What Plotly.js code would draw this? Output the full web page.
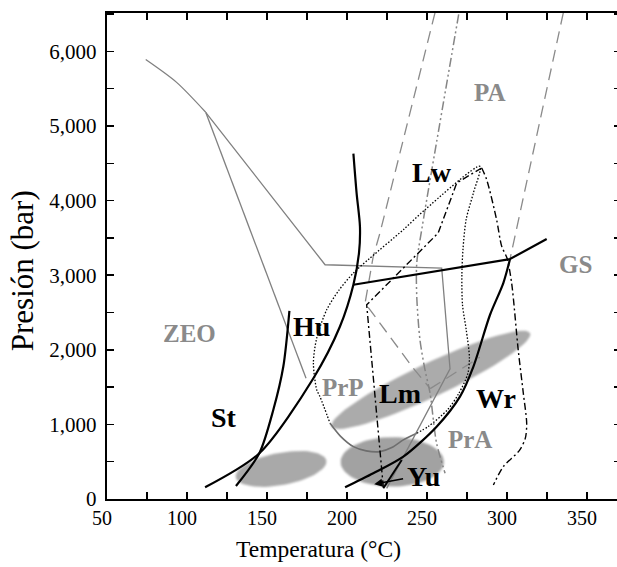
<!DOCTYPE html>
<html><head><meta charset="utf-8">
<script src="https://cdn.plot.ly/plotly-3.0.1.min.js"></script>
<style>html,body{margin:0;padding:0;overflow:hidden;background:#fff}#c{width:621px;height:567px}</style>
</head><body><div id="c"></div>
<script>
// ---- Data (Temperature °C, Pressure bar) ----
// Thin grey field boundaries (ZEO)
const zeoArcT = [74.2, 93.5, 111.7];
const zeoArcP = [5891, 5585, 5184];
const zeoTopT = [111.7, 183, 186.3, 259.2, 264.4, 224.8];
const zeoTopP = [5184, 3234, 3140, 3095, 1745, 143];
const zeoPrpT = [111.7, 174.4];
const zeoPrpP = [5184, 1620];
// Grey long-dash boundaries (PA)
const paLeftT = [255, 220.6, 216.4, 211.3, 241.4, 252];
const paLeftP = [6518, 3566, 3252, 2626, 1754, 1480];
const paLinkT = [252, 283];
const paLinkP = [1480, 1900];
const paRightT = [335.2, 301.9];
const paRightP = [6518, 3217];
// Grey dash-dot-dot line
const ddT = [269.8, 246.7, 243.6, 243.6, 245.6, 248.75, 251.9, 256, 261.3];
const ddP = [6495, 3610, 3163, 2715, 2134, 1731, 1418, 747, 345];
// Thick black reaction curves
const stT = [130.6, 145.2, 154, 160.2, 164];
const stP = [174, 613, 1200, 1776, 2523];
const huT = [111.3, 145.2, 179, 195.6, 204, 207.5, 208.1, 206, 204];
const huP = [157, 613, 1619, 2312, 2872, 3300, 3650, 4100, 4630];
const gsT = [204, 301.9, 324.8];
const gsP = [2872, 3217, 3485];
const wrT = [198.8, 216.4, 235.2, 256, 270.6, 279, 289.4, 297.7, 301.9];
const wrP = [157, 345, 568, 970, 1373, 1776, 2470, 2895, 3217];
const yuT = [222.7, 234.2];
const yuP = [143, 523];
// Black dash-dot curves
const lwLeftT = [222.7, 220.6, 218.6, 215.4, 212.3, 257, 268.6, 284.2];
const lwLeftP = [157, 658, 1104, 1865, 2603, 3566, 4237, 4438];
const lwRightT = [284.2, 287.3, 293.5, 296.7, 300, 302.9, 307, 310.2, 312.3, 311.5, 308, 297.7, 291.5];
const lwRightP = [4438, 4281, 3744, 3386, 3230, 2895, 2000, 1418, 1015, 820, 658, 434, 188];
// Dotted loop
const dotT = [243.6, 251, 263, 270, 275.5, 276.5, 274.5, 272.2, 271.8, 272.5, 274.5, 279, 283.1, 248.75, 235.2, 214.4, 204, 195, 187.3, 181, 179, 181.1, 183.1, 189.4];
const dotP = [881, 975, 1200, 1420, 1680, 1900, 2270, 2600, 3000, 3350, 3750, 4103, 4460, 3878, 3610, 3230, 3029, 2800, 2536, 2150, 1821, 1463, 1373, 1015];
// Loop section under the shaded ellipses
const uT = [189.4, 196, 204, 212, 220.6, 228, 235.2, 243.6];
const uP = [1015, 840, 702, 645, 635, 690, 792, 881];
// Shaded P-T fields (ellipses): centre, semi-axis vectors (°C, bar)
const ellCT = [158.8, 228.3, 252.4];
const ellCP = [403, 497, 1597];
const ellUT = [28.3, 32.3, 62];
const ellUP = [112.7, 0, 627];
const ellVT = [1.84, 0, 4.5];
const ellVP = [-213, 331, -206];
// Field / mineral labels
const labTxt = ['PA', 'GS', 'ZEO', 'PrP', 'PrA', 'Lw', 'Hu', 'St', 'Lm', 'Wr', 'Yu'];
const labT = [288.75, 342.5, 101.4, 197.7, 276.9, 252.9, 177.9, 123.1, 233.1, 292.9, 247.7];
const labP = [5453, 3140, 2214, 1499, 792, 4371, 2312, 1096, 1418, 1351, 300];
const labGrey = [true, true, true, true, true, false, false, false, false, false, false];
// Arrow near Yu (tail -> head)
const arrT = [236, 217];
const arrP = [275, 198];
// Axis ticks and titles
const xTickVals = [50, 75, 100, 125, 150, 175, 200, 225, 250, 275, 300, 325, 350];
const xTickText = ['50', '', '100', '', '150', '', '200', '', '250', '', '300', '', '350'];
const yTickVals = [0, 500, 1000, 1500, 2000, 2500, 3000, 3500, 4000, 4500, 5000, 5500, 6000, 6500];
const yTickText = ['0', '', '1,000', '', '2,000', '', '3,000', '', '4,000', '', '5,000', '', '6,000', ''];
const xTitle = 'Temperatura (°C)';
const yTitle = 'Presión (bar)';

// ---- Build traces ----
const traces = [];
function ellipse(i) {
  const xs = [], ys = [];
  for (let k = 0; k <= 72; k++) {
    const t = 2 * Math.PI * k / 72;
    xs.push(ellCT[i] + ellUT[i] * Math.cos(t) + ellVT[i] * Math.sin(t));
    ys.push(ellCP[i] + ellUP[i] * Math.cos(t) + ellVP[i] * Math.sin(t));
  }
  return [xs, ys];
}
const ellCols = ['#a9a9a9', '#a2a2a2', '#ababab'];
for (let i = 0; i < ellCT.length; i++) {
  const e = ellipse(i);
  traces.push({x: e[0], y: e[1], mode: 'lines', fill: 'toself',
    fillcolor: ellCols[i], line: {width: 0, color: ellCols[i]}, hoverinfo: 'skip'});
}
function ln(x, y, color, width, dash, shape) {
  traces.push({x: x, y: y, mode: 'lines', hoverinfo: 'skip',
    line: {color: color, width: width, dash: dash || 'solid', shape: shape || 'linear', smoothing: 0.8}});
}
const grey = '#808080';
ln(uT, uP, '#6e6e6e', 1.6, 'solid', 'spline');
ln(zeoArcT, zeoArcP, grey, 1.3, 'solid', 'spline');
ln(zeoTopT, zeoTopP, grey, 1.3);
ln(zeoPrpT, zeoPrpP, grey, 1.3);
ln(paLeftT, paLeftP, '#8a8a8a', 1.3, '12px,7px');
ln(paLinkT, paLinkP, '#8a8a8a', 1.3, '12px,7px');
ln(paRightT, paRightP, '#8a8a8a', 1.3, '12px,7px');
ln(ddT, ddP, '#858585', 1.5, '9px,3px,2px,3px,2px,3px', 'spline');
ln(dotT, dotP, '#000', 1.3, '1.5px,1.8px', 'spline');
ln(lwLeftT, lwLeftP, '#000', 1.4, '7px,3px,2px,3px');
ln(lwRightT, lwRightP, '#000', 1.4, '7px,3px,2px,3px', 'spline');
ln(stT, stP, '#000', 2.2, 'solid', 'spline');
ln(huT, huP, '#000', 2.2, 'solid', 'spline');
ln(gsT, gsP, '#000', 2.2);
ln(wrT, wrP, '#000', 2.2, 'solid', 'spline');
ln(yuT, yuP, '#000', 2.0);

const serif = 'Liberation Serif, Times New Roman, serif';
const annotations = labTxt.map((t, i) => ({
  x: labT[i], y: labP[i], xref: 'x', yref: 'y', text: '<b>' + t + '</b>', showarrow: false,
  xanchor: 'center', yanchor: 'middle',
  font: {family: serif, size: labGrey[i] ? 25 : 28, color: labGrey[i] ? '#8a8a8a' : '#000'}
}));
annotations.push({x: arrT[1], y: arrP[1], ax: arrT[0], ay: arrP[0], xref: 'x', yref: 'y',
  axref: 'x', ayref: 'y', text: '', showarrow: true, arrowhead: 2, arrowsize: 1.1,
  arrowwidth: 1.5, arrowcolor: '#000'});
annotations.push({text: xTitle, xref: 'paper', yref: 'paper', x: 0.411, y: -0.103,
  xanchor: 'center', yanchor: 'middle', showarrow: false,
  font: {family: serif, size: 23.5, color: '#000'}});
annotations.push({text: yTitle, xref: 'paper', yref: 'paper', x: -0.165, y: 0.469,
  xanchor: 'center', yanchor: 'middle', showarrow: false, textangle: -90,
  font: {family: serif, size: 31, color: '#000'}});

const layout = {
  width: 621, height: 567, showlegend: false,
  margin: {l: 107, r: 0, t: 13, b: 68},
  paper_bgcolor: '#fff', plot_bgcolor: '#fff',
  font: {family: serif, size: 20, color: '#000'},
  xaxis: {range: [50, 371.25], tickvals: xTickVals, ticktext: xTickText, ticks: 'inside',
    ticklen: 7, tickwidth: 1.5, tickcolor: '#000', showline: true, linewidth: 2.2, linecolor: '#000',
    mirror: 'allticks', showgrid: false, zeroline: false, ticklabelshift: -5,
    tickfont: {family: serif, size: 20, color: '#000'}},
  yaxis: {range: [0, 6515], tickvals: yTickVals, ticktext: yTickText, ticks: 'inside',
    ticklen: 7, tickwidth: 1.5, tickcolor: '#000', showline: true, linewidth: 2.2, linecolor: '#000',
    mirror: 'allticks', showgrid: false, zeroline: false, ticklabelstandoff: 4,
    tickfont: {family: serif, size: 21, color: '#000'}},
  annotations: annotations
};
Plotly.newPlot('c', traces, layout, {staticPlot: true, displayModeBar: false}).then(() => {
  const tr = document.querySelectorAll('.scatterlayer .trace');
  for (let i = 0; i < 3 && i < tr.length; i++) tr[i].style.filter = 'blur(1.3px)';
});
</script></body></html>
